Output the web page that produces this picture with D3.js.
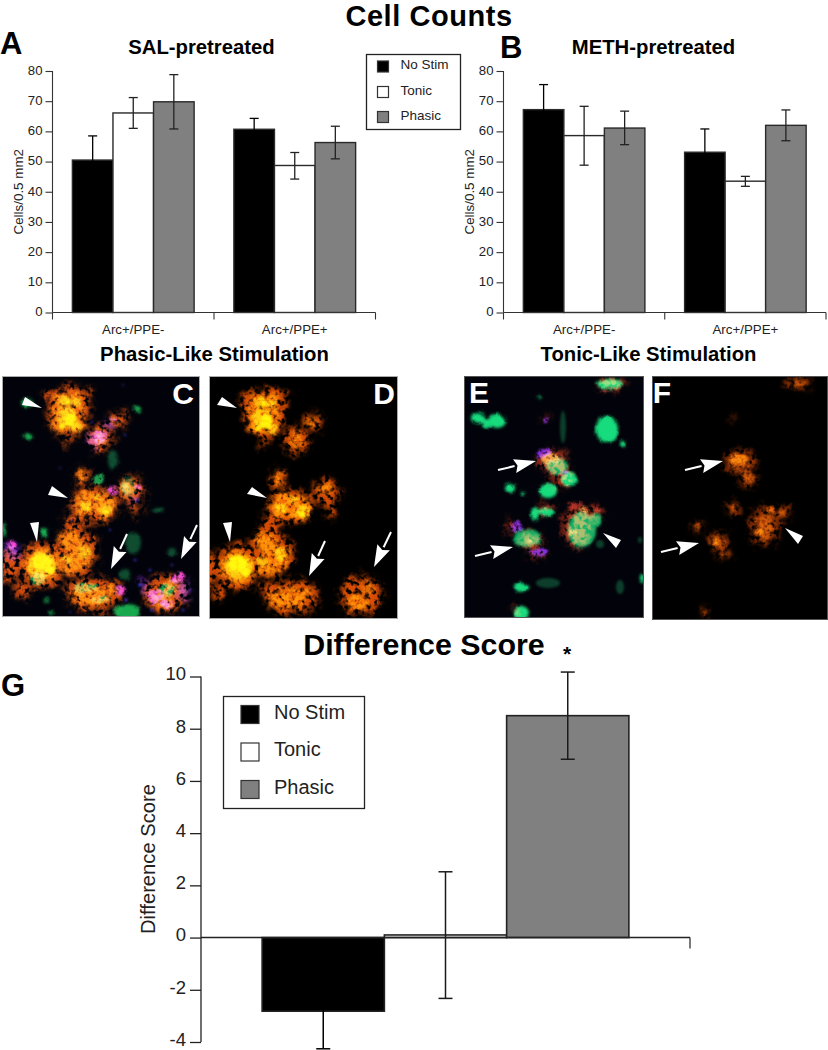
<!DOCTYPE html>
<html><head><meta charset="utf-8">
<script src="https://cdn.jsdelivr.net/npm/d3@7/dist/d3.min.js"></script>
<style>
html,body{margin:0;padding:0;background:#fff}
svg{display:block}
text{font-family:"Liberation Sans",Arial,sans-serif;fill:#1a1a1a}
.b{font-weight:700;fill:#000}
</style></head><body><svg id="c" width="828" height="1050" viewBox="0 0 828 1050"></svg>
<script>
// ---- chart data ----
const groups = ["Arc+/PPE-","Arc+/PPE+"];
const stimKinds = ["No Stim","Tonic","Phasic"];
const salValues = [50.5,66.1,69.8,60.7,48.7,56.3];
const salHigh   = [58.5,71.2,78.8,64.3,53.0,61.7];
const salLow    = [42.5,61.0,60.8,57.1,44.2,50.9];
const methValues= [67.2,58.6,61.1,53.1,43.5,62.0];
const methHigh  = [75.5,68.3,66.7,60.8,45.1,67.1];
const methLow   = [58.9,48.8,55.6,45.4,41.8,56.9];
const countTicks= [0,10,20,30,40,50,60,70,80];
const diffValues= [-2.82,0.1,8.5];
const diffHigh  = [-1.4,2.52,10.17];
const diffLow   = [-4.26,-2.33,6.83];
const diffTicks = [-4,-2,0,2,4,6,8,10];
const fillByKind= {"No Stim":"#000","Tonic":"#fff","Phasic":"#808080"};

// ---- micrograph sketch: [x,y,rx,ry] in the frame of panels C and F ----
const orangeHalo=[[68,410,21,24],[84,395,8,8],[50,398,6,6],[100,438,13,14],[118,420,9,8],[82,477,7,9],[95,505,23,18],[130,490,14,13],[136,508,5,9],[75,552,22,24],[42,565,23,23],[10,567,10,17],[73,522,9,10],[22,590,8,8],[95,595,28,17],[70,588,7,6],[165,593,22,19],[68,440,4,6]];
const orangeMid =[[60,398,7,6],[75,398,7,6],[60,412,8,9],[76,412,8,9],[60,426,8,7],[76,426,8,7],[100,438,6,7],[115,420,4,4],[82,477,5,7],[85,505,10,11],[103,505,11,12],[90,497,6,6],[130,487,6,4],[70,540,11,9],[80,555,14,12],[72,568,9,6],[42,565,18,16],[90,597,18,10],[110,590,6,5],[162,600,10,8],[172,585,5,5]];
const orangeHot =[[64,400,6,5],[76,402,5,5],[66,416,9,9],[76,427,5,5],[85,506,5,5],[106,510,7,5],[98,497,4,3],[66,560,5,4],[84,552,6,6],[42,565,14,12]];
const orangeCore=[[70,420,6,7],[62,426,3,3],[68,402,3,3],[42,562,10,8],[50,570,5,4],[106,512,3,2],[88,509,2,2]];
const greenSoft=[[27,403,6,4],[28,437,5,3],[137,409,4,3],[44,533,4,5],[127,612,13,8],[51,613,2,2],[47,600,2,2],[3,530,2,8]];
const greenDim=[[133,543,8,11],[128,487,7,10],[113,460,5,10],[125,575,6,6],[158,510,6,3],[172,552,4,4]];
const greenStrand=[[38,578,8,7],[86,588,13,5],[100,600,10,3],[167,590,9,7],[98,480,5,6],[125,487,4,6]];
const magentaC=[[100,437,7,7],[115,420,3,2],[113,490,5,4],[12,545,4,4],[155,597,8,6],[167,604,7,4],[178,578,6,6],[138,488,3,2],[120,590,5,5]];
const purpleC=[[92,440,5,9],[12,550,9,9],[184,590,5,12],[145,585,5,6],[135,500,3,5],[110,424,6,5]];
const blueC=[[123,385,.8,.8],[92,422,1,1],[125,435,1,1],[60,468,.8,.8],[72,520,1,.8],[137,500,1.5,1.5],[135,560,1.5,1],[150,570,1.2,1.2],[172,565,1,1],[190,590,1,1],[183,610,1.5,1],[70,612,1,.8],[152,610,2,1],[126,600,1.5,1.5],[110,530,1,1],[140,585,2,1.5]];
const greenE=[[478,418,7,6],[497,421,9,7],[486,424,4,5],[607,429,11,14],[610,384,13,5],[569,479,8,7],[548,491,9,7],[546,512,8,4],[535,514,4,7],[510,488,5,5],[523,493,2,2],[520,587,5,5],[526,587,3,3],[521,613,8,7],[642,578,2,4],[623,443,3,3],[540,397,1.5,1.5]];
const greenMixedE=[[557,466,11,8],[527,538,14,9],[582,530,14,18],[595,520,7,7]];
const dimGreenE=[[620,587,4,7],[548,583,12,5],[563,427,3,16],[600,544,4,4],[640,540,2,3]];
const orangeF=[[740,462,16,11],[748,477,9,11],[698,526,5,6],[718,542,11,9],[725,553,6,6],[765,527,15,20],[782,513,9,6],[733,508,7,6],[798,383,13,6],[732,418,3,2],[705,612,4,4]];
const orangeFhot=[[738,459,9,6],[717,542,3,3],[760,532,5,3],[770,510,4,3]];
const purpleE=[[543,453,6,5],[517,527,5,5],[540,552,8,4],[565,473,4,3],[546,420,3,2],[531,552,3,2]];
const specksE=[[604,392,3,2],[615,387,2,2],[575,505,8,3],[600,510,6,2]];
const wedges=[[[25,397],[22,405],[42,408]],[[52,486],[48,495],[68,498]],[[30,523],[39,522],[37,542]],
 [[222,397],[217,405],[237,408]],[[252,487],[247,494],[267,498]],[[223,523],[232,522],[230,542]],
 [[603,533],[621,540],[616,548]],[[785,528],[803,536],[798,544]]];
const arrows=[[127,534,111,569],[197,525,181,559],[325,541,309,576],[391,532,374,567],[498,470,536,461],[475,556,513,547],[685,470,723,461],[661,552,699,543]];
const panels=[{n:"C",x:2,y:376,w:198,h:241,lx:183,ly:404,s:"#aaa"},{n:"D",x:209,y:376,w:189,h:243,lx:384,ly:404,s:"#aaa"},{n:"E",x:464,y:376,w:180,h:242,lx:479,ly:403,s:"#555"},{n:"F",x:652,y:376,w:176,h:244,lx:662,ly:403,s:"#555"}];

const svg=d3.select("#c");
const defs=svg.append("defs");
function newF(id){return defs.append("filter").attr("id",id).attr("filterUnits","userSpaceOnUse").attr("x",0).attr("y",360).attr("width",828).attr("height",280).attr("color-interpolation-filters","sRGB");}
function speck(id,freq,slope,lo,seed,blur,disp){
  const f=newF(id);
  f.append("feTurbulence").attr("type","fractalNoise").attr("baseFrequency",.09).attr("numOctaves",3).attr("seed",seed+1).attr("result","w");
  f.append("feTurbulence").attr("type","fractalNoise").attr("baseFrequency",freq).attr("numOctaves",2).attr("seed",seed).attr("result","n");
  f.append("feGaussianBlur").attr("in","SourceGraphic").attr("stdDeviation",blur).attr("result","b");
  f.append("feDisplacementMap").attr("in","b").attr("in2","w").attr("scale",disp).attr("xChannelSelector","R").attr("yChannelSelector","G").attr("result","d");
  f.append("feColorMatrix").attr("in","n").attr("type","matrix").attr("values",`0 0 0 0 1 0 0 0 0 1 0 0 0 0 1 ${slope} 0 0 0 ${lo}`).attr("result","m");
  f.append("feComposite").attr("in","d").attr("in2","m").attr("operator","in").attr("result","c");
  f.append("feGaussianBlur").attr("in","c").attr("stdDeviation",.7);
}
speck("sp1",.2,4.5,-1.5,3,3,14);
speck("sp2",.22,4,-1,8,2,10);
speck("sp3",.25,3.5,-.7,5,1.3,6);
const soft=newF("soft");
soft.append("feGaussianBlur").attr("stdDeviation",1.2);
const wob=newF("wob");
wob.append("feTurbulence").attr("type","fractalNoise").attr("baseFrequency",.1).attr("numOctaves",2).attr("seed",11).attr("result","w");
wob.append("feGaussianBlur").attr("in","SourceGraphic").attr("stdDeviation",1.5).attr("result","b");
wob.append("feDisplacementMap").attr("in","b").attr("in2","w").attr("scale",4).attr("xChannelSelector","R").attr("yChannelSelector","G");

panels.forEach(p=>{
  defs.append("clipPath").attr("id","cp"+p.n).append("rect").attr("x",p.x).attr("y",p.y).attr("width",p.w).attr("height",p.h);
});
function layer(g,list,color,filter,dx=0,dy=0,op=1){
  g.append("g").attr("filter",`url(#${filter})`).style("mix-blend-mode","screen").attr("opacity",op)
   .selectAll("ellipse").data(list).join("ellipse")
   .attr("cx",d=>d[0]+dx).attr("cy",d=>d[1]+dy).attr("rx",d=>d[2]).attr("ry",d=>d[3]).attr("fill",color);
}
panels.forEach(p=>{
  const g=svg.append("g").attr("clip-path",`url(#cp${p.n})`).style("isolation","isolate");
  g.append("rect").attr("x",p.x).attr("y",p.y).attr("width",p.w).attr("height",p.h).attr("fill",(p.n==="C"||p.n==="E")?"#02030a":"#000");
  if(p.n==="C"||p.n==="D"){
    const dx=p.n==="D"?196:0, dy=p.n==="D"?2:0;
    layer(g,orangeHalo,"#d84c04","sp1",dx,dy);
    layer(g,orangeMid,"#fa6a04","sp2",dx,dy);
    layer(g,orangeHot,"#f09a08","sp3",dx,dy);
    layer(g,orangeCore,"#ffd800","soft",dx,dy);
    if(p.n==="C"){
      layer(g,greenDim,"#0d4a28","wob");
      layer(g,greenSoft,"#16a848","wob");
      layer(g,greenStrand,"#1c9a44","sp3");
      layer(g,purpleC,"#5a20b0","sp1");
      layer(g,magentaC,"#f040c8","sp3");
      layer(g,blueC,"#3a30e0","soft");
    }
  } else if(p.n==="E"){
    layer(g,dimGreenE,"#0a3c22","soft");
    layer(g,greenE,"#14dc78","wob");
    layer(g,greenMixedE,"#12b060","wob");
    layer(g,orangeF,"#b83010","sp1",-187,0,.9);
    layer(g,orangeFhot,"#f09030","sp3",-187,0);
    layer(g,purpleE,"#8028d8","sp3");
    layer(g,specksE,"#902018","sp3");
  } else {
    layer(g,orangeF,"#8a2e04","sp1");
    layer(g,orangeF.map(d=>[d[0],d[1],d[2]*.65,d[3]*.65]),"#a83c05","sp2");
    layer(g,orangeFhot,"#e85806","sp3");
  }
  svg.append("rect").attr("x",p.x+.5).attr("y",p.y+.5).attr("width",p.w-1).attr("height",p.h-1).attr("fill","none").attr("stroke",p.s);
});
svg.append("g").selectAll("path").data(wedges).join("path").attr("d",d=>d3.line()(d)+"Z").attr("fill","#fff");
arrows.forEach(a=>{
  const [x1,y1,x2,y2]=a, L=Math.hypot(x2-x1,y2-y1), ux=(x2-x1)/L, uy=(y2-y1)/L, h=22, w=7;
  const bx=x2-ux*h, by=y2-uy*h;
  svg.append("line").attr("x1",x1).attr("y1",y1).attr("x2",bx).attr("y2",by).attr("stroke","#fff").attr("stroke-width",2);
  svg.append("path").attr("d",d3.line()([[x2,y2],[bx-uy*w,by+ux*w],[bx+ux*3,by+uy*3],[bx+uy*w,by-ux*w]])+"Z").attr("fill","#fff");
});
panels.forEach(p=>svg.append("text").attr("x",p.lx).attr("y",p.ly).attr("text-anchor","middle").attr("font-size",30).attr("font-weight",700).style("fill","#fff").text(p.n));

// ---- bar charts ----
function barChart(cfg){
  const y=d3.scaleLinear().domain([0,80]).range([cfg.y0,cfg.y80]);
  const x0=d3.scaleBand().domain(groups).range([cfg.xl,cfg.xr]);
  const x1=d3.scaleBand().domain(stimKinds).range([0,x0.bandwidth()]).paddingInner(0).paddingOuter(.49);
  const rows=groups.flatMap(g=>stimKinds.map(k=>({g,k})));
  rows.forEach((r,i)=>{r.v=cfg.vals[i];r.hi=cfg.hi[i];r.lo=cfg.lo[i];});
  const g=svg.append("g");
  g.selectAll("rect").data(rows).join("rect")
   .attr("x",d=>x0(d.g)+x1(d.k)).attr("width",x1.bandwidth())
   .attr("y",d=>y(d.v)).attr("height",d=>y(0)-y(d.v))
   .attr("fill",d=>fillByKind[d.k]).attr("stroke","#2a2a2a").attr("stroke-width",1.4);
  const cx=d=>x0(d.g)+x1(d.k)+x1.bandwidth()/2;
  const e=g.selectAll("g.e").data(rows).join("g").attr("class","e").attr("stroke",d=>d.k==="No Stim"?"#000":"#222").attr("stroke-width",1.3);
  e.append("line").attr("x1",cx).attr("x2",cx).attr("y1",d=>y(d.hi)).attr("y2",d=>y(d.lo));
  e.append("line").attr("x1",d=>cx(d)-4.5).attr("x2",d=>cx(d)+4.5).attr("y1",d=>y(d.hi)).attr("y2",d=>y(d.hi));
  e.append("line").attr("x1",d=>cx(d)-4.5).attr("x2",d=>cx(d)+4.5).attr("y1",d=>y(d.lo)).attr("y2",d=>y(d.lo));
  const ya=g.append("g").attr("transform",`translate(${cfg.xl},0)`).call(d3.axisLeft(y).tickValues(countTicks).tickSize(7).tickPadding(3));
  ya.selectAll("text").attr("font-size",13.2).attr("dy",".25em").style("fill","#222");
  ya.selectAll("path,line").attr("stroke","#333").attr("stroke-width",1.1);
  ya.select("path").attr("d",`M0,${cfg.y80}V${cfg.y0}`);
  const xa=g.append("g").attr("transform",`translate(0,${cfg.y0})`).call(d3.axisBottom(x0).tickSize(0).tickPadding(12));
  xa.selectAll("text").attr("font-size",13.3).style("fill","#222");
  xa.select("path").attr("stroke","#333").attr("stroke-width",1.1).attr("d",`M${cfg.xl},0H${cfg.xr}`);
  const edges=[x0(groups[0]),x0(groups[1]),cfg.xr];
  xa.selectAll("line.t").data(edges).join("line").attr("class","t").attr("x1",d=>d).attr("x2",d=>d).attr("y1",0).attr("y2",7).attr("stroke","#333").attr("stroke-width",1.1);
  g.append("text").attr("transform",`translate(${cfg.xl-30},${(cfg.y0+cfg.y80)/2})rotate(-90)`).attr("text-anchor","middle").attr("font-size",13.4).style("fill","#222").text("Cells/0.5 mm2");
}
barChart({xl:52.5,xr:375.5,y0:312.5,y80:71,vals:salValues,hi:salHigh,lo:salLow});
barChart({xl:503.5,xr:826,y0:312.5,y80:71,vals:methValues,hi:methHigh,lo:methLow});

// ---- legends ----
function legend(x,y,w,h,sx,ss,items,tx,fs){
  svg.append("rect").attr("x",x).attr("y",y).attr("width",w).attr("height",h).attr("fill","#fff").attr("stroke","#222").attr("stroke-width",1.3);
  stimKinds.forEach((k,i)=>{
    svg.append("rect").attr("x",sx).attr("y",items[i]).attr("width",ss).attr("height",ss).attr("fill",fillByKind[k]).attr("stroke","#333").attr("stroke-width",1.2);
    svg.append("text").attr("x",tx).attr("y",items[i]+ss*.74).attr("font-size",fs).style("fill","#222").text(k);
  });
}
legend(366.5,54.5,94,75,377.5,11,[61,86.5,111.5],400.5,13.5);

// ---- difference score ----
{
  const y=d3.scaleLinear().domain([-4,10]).range([1042,676.5]);
  const x=d3.scaleBand().domain(stimKinds).range([201,690]).paddingInner(0).paddingOuter(.5);
  const rows=stimKinds.map((k,i)=>({k,v:diffValues[i],hi:diffHigh[i],lo:diffLow[i]}));
  const g=svg.append("g");
  g.selectAll("rect").data(rows).join("rect").attr("x",d=>x(d.k)).attr("width",x.bandwidth())
   .attr("y",d=>y(Math.max(0,d.v))).attr("height",d=>Math.abs(y(d.v)-y(0)))
   .attr("fill",d=>fillByKind[d.k]).attr("stroke","#222").attr("stroke-width",1.6);
  const cx=d=>x(d.k)+x.bandwidth()/2;
  const e=g.selectAll("g.e").data(rows).join("g").attr("class","e").attr("stroke",d=>d.k==="No Stim"?"#000":"#1a1a1a").attr("stroke-width",1.5);
  e.append("line").attr("x1",cx).attr("x2",cx).attr("y1",d=>y(d.hi)).attr("y2",d=>y(d.lo));
  e.append("line").attr("x1",d=>cx(d)-7).attr("x2",d=>cx(d)+7).attr("y1",d=>y(d.hi)).attr("y2",d=>y(d.hi));
  e.append("line").attr("x1",d=>cx(d)-7).attr("x2",d=>cx(d)+7).attr("y1",d=>y(d.lo)).attr("y2",d=>y(d.lo));
  const ya=g.append("g").attr("transform","translate(201,0)").call(d3.axisLeft(y).tickValues(diffTicks).tickFormat(d=>String(d)).tickSize(11).tickPadding(4));
  ya.selectAll("text").attr("font-size",18.5).attr("dy",".18em").style("fill","#222");
  ya.selectAll("path,line").attr("stroke","#222").attr("stroke-width",1.3);
  ya.select("path").attr("d",`M0,${y(10)}V${y(-4)}`);
  g.append("line").attr("x1",201).attr("x2",690).attr("y1",y(0)).attr("y2",y(0)).attr("stroke","#222").attr("stroke-width",1.4);
  g.append("line").attr("x1",690).attr("x2",690).attr("y1",y(0)).attr("y2",y(0)+11).attr("stroke","#222").attr("stroke-width",1.2);
  g.append("text").attr("transform","translate(155,859)rotate(-90)").attr("text-anchor","middle").attr("font-size",20.2).style("fill","#222").text("Difference Score");
  legend(223.5,696.5,141,112,241,18,[705.5,743,780.5],274,20);
}

// ---- titles ----
const titles=[["Cell Counts",429,26,29,"middle"],["SAL-pretreated",201.5,54,20.3,"middle"],["METH-pretreated",653.5,54,20.3,"middle"],
["Phasic-Like Stimulation",214.5,361,20.3,"middle"],["Tonic-Like Stimulation",648.5,361,20.3,"middle"],["Difference Score",424,655,30.4,"middle"],
["A",0,54,31,"start"],["B",500,58,31,"start"],["G",1,696,31,"start"]];
titles.forEach(t=>svg.append("text").attr("class","b").attr("x",t[1]).attr("y",t[2]).attr("font-size",t[3]).attr("text-anchor",t[4]).attr("letter-spacing",t[0]==="Cell Counts"?.55:null).text(t[0]));
svg.append("text").attr("class","b").attr("x",567).attr("y",661).attr("text-anchor","middle").attr("font-size",21).text("*");
</script></body></html>
